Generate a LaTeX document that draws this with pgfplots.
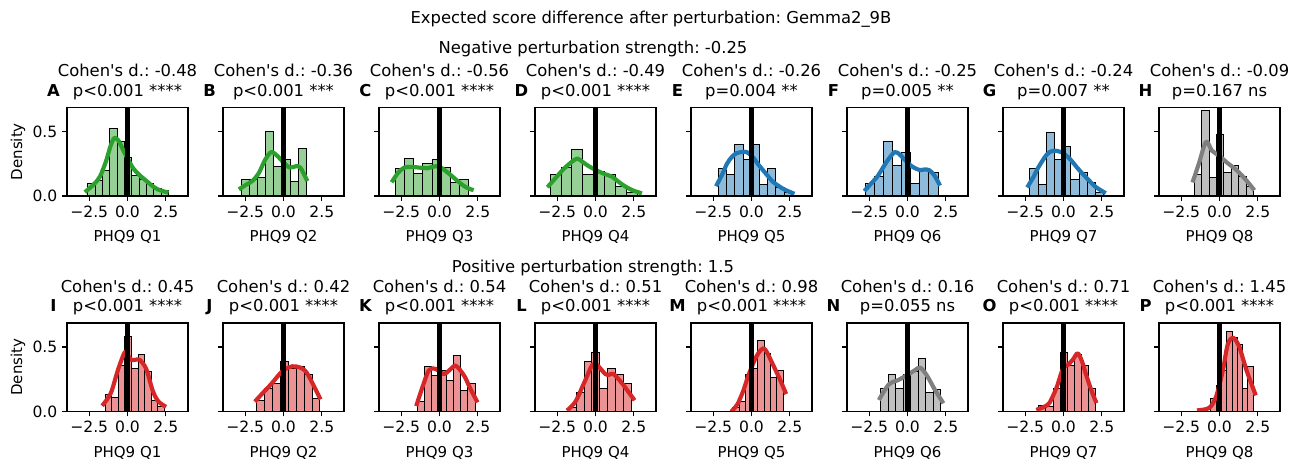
\documentclass[border=0pt]{standalone}
\usepackage{fontspec}
\setmainfont{DejaVu Sans}[Ligatures=TeXOff]
\usepackage{pgfplots}
\pgfplotsset{compat=1.18}
\frenchspacing
\definecolor{tgreen}{HTML}{2CA02C}
\definecolor{tblue}{HTML}{1F77B4}
\definecolor{tred}{HTML}{D62728}
\definecolor{tgray}{HTML}{7F7F7F}
\definecolor{fgreen}{RGB}{150,208,150}
\definecolor{fblue}{RGB}{143,187,218}
\definecolor{fred}{RGB}{235,147,148}
\definecolor{fgray}{RGB}{191,191,191}
\newcommand\tf{\fontsize{11.8bp}{14bp}\selectfont}
\newcommand\lf{\fontsize{10.8bp}{13bp}\selectfont}
\newcommand\kf{\fontsize{11.2bp}{13bp}\selectfont}
\pgfplotsset{
 panel/.style={
  scale only axis, width=87.12bp, height=63.72bp, anchor=south west,
  xmin=-3.95, xmax=3.95, ymin=0, ymax=0.685,
  xtick={-2.5,0,2.5}, xticklabels={−2.5,0.0,2.5},
  ytick={0,0.5}, yticklabels={},
  tick pos=left,
  tick align=outside, major tick length=3.5bp,
  every tick/.style={black, line width=0.9bp},
  axis line style={line width=1.1bp},
  tick label style={font=\kf},
  axis on top,
  /pgf/number format/assume math mode=true,
 },
 ylab/.style={yticklabels={0.0,0.5}},
 hist/.style={ybar interval, fill=#1, draw=black, line width=0.7bp},
 kde/.style={color=#1, line width=3bp, smooth, tension=0.5, line cap=rect, line join=round},
 zline/.style={black, line width=3.6bp},
}
\newcommand\panel[6]{%
\begin{axis}[panel, at={(#1*0.72bp,-#2*0.72bp)}, #3]
\addplot[hist=f#4] coordinates {#5};
\addplot[kde=t#4] coordinates {#6};
\addplot[zline] coordinates {(0,0) (0,0.685)};
\end{axis}}
\newcommand\ptext[6]{%
\node[anchor=base] at (#1,#2-31) {\tf Cohen's d.: #4};
\node[anchor=base] at (#1,#2-11.5) {\tf #5};
\node[anchor=base] at (#1-74,#2-11.5) {\tf\bfseries #3};
\node[anchor=base] at (#1,#2+88.5+45.5) {\lf #6};
}
\begin{document}
\begin{tikzpicture}[x=0.72bp,y=-0.72bp]
\path (0,0) rectangle (1302,461);
% top row (bottom y = 196)
\panel{67}{196}{ylab}{green}{(-2.60,0.10) (-2.12,0.12) (-1.64,0.20) (-1.16,0.52) (-0.68,0.42) (-0.20,0.30) (0.28,0.16) (0.76,0.13) (1.24,0.10) (1.72,0.06) (2.20,0.04) (2.68,0)}
{(-2.68,0.04) (-2.2,0.09) (-1.8,0.15) (-1.4,0.27) (-1.1,0.39) (-0.85,0.45) (-0.6,0.43) (-0.3,0.36) (0,0.29) (0.4,0.21) (0.8,0.16) (1.2,0.12) (1.6,0.08) (2.0,0.05) (2.55,0.03)}
\panel{223}{196}{}{green}{(-2.75,0.13) (-2.22,0.13) (-1.69,0.14) (-1.16,0.50) (-0.63,0.23) (-0.10,0.28) (0.43,0.11) (0.96,0.37) (1.49,0)}
{(-2.8,0.06) (-2.4,0.09) (-2.0,0.12) (-1.6,0.18) (-1.2,0.28) (-0.8,0.34) (-0.4,0.31) (0,0.26) (0.4,0.22) (0.8,0.23) (1.1,0.22) (1.5,0.13)}
\panel{379}{196}{}{green}{(-2.88,0.215) (-2.28,0.29) (-1.68,0.175) (-1.08,0.25) (-0.48,0.28) (0.12,0.22) (0.72,0.105) (1.32,0.125) (1.92,0)}
{(-3.05,0.12) (-2.7,0.18) (-2.3,0.22) (-1.8,0.225) (-1.33,0.22) (-0.8,0.215) (-0.26,0.23) (0.1,0.22) (0.7,0.165) (1.24,0.11) (1.7,0.07) (2.1,0.05)}
\panel{535}{196}{}{green}{(-2.96,0.17) (-2.25,0.22) (-1.54,0.36) (-0.83,0.17) (-0.12,0.19) (0.59,0.17) (1.30,0.075) (2.01,0.03) (2.72,0)}
{(-3.05,0.08) (-2.6,0.14) (-2.15,0.20) (-1.6,0.26) (-1.18,0.29) (-0.8,0.26) (-0.43,0.23) (0.21,0.19) (0.6,0.17) (1.07,0.15) (1.5,0.11) (1.93,0.075) (2.4,0.045) (2.9,0.025)}
\panel{691}{196}{}{blue}{(-2.15,0.21) (-1.615,0.17) (-1.08,0.40) (-0.545,0.28) (-0.01,0.40) (0.525,0.09) (1.06,0.21) (1.595,0.065) (2.13,0.03) (2.665,0)}
{(-2.25,0.09) (-1.9,0.17) (-1.6,0.25) (-1.3,0.30) (-1.0,0.33) (-0.65,0.34) (-0.32,0.34) (0.1,0.30) (0.4,0.25) (0.75,0.20) (1.1,0.15) (1.4,0.11) (2.04,0.057) (2.68,0.023)}
\panel{847}{196}{}{blue}{(-2.73,0.095) (-2.14,0.15) (-1.55,0.42) (-0.96,0.24) (-0.37,0.34) (0.22,0.095) (0.81,0.21) (1.40,0.18) (1.99,0)}
{(-2.73,0.05) (-2.35,0.10) (-1.97,0.15) (-1.65,0.21) (-1.33,0.27) (-0.84,0.34) (-0.5,0.32) (-0.26,0.29) (0.28,0.23) (0.82,0.20) (1.1,0.205) (1.42,0.20) (1.75,0.16) (2.06,0.095)}
\panel{1003}{196}{}{blue}{(-2.19,0.21) (-1.655,0.09) (-1.12,0.49) (-0.585,0.28) (-0.05,0.385) (0.485,0.13) (1.02,0.18) (1.555,0.105) (2.09,0.025) (2.625,0)}
{(-2.3,0.08) (-1.95,0.15) (-1.65,0.22) (-1.1,0.32) (-0.69,0.35) (-0.15,0.34) (0.39,0.29) (1.03,0.20) (1.67,0.12) (2.1,0.07) (2.64,0.03)}
\panel{1159}{196}{}{gray}{(-1.63,0.165) (-1.15,0.66) (-0.67,0.14) (-0.19,0.48) (0.29,0.18) (0.77,0.24) (1.25,0.15) (1.73,0.075) (2.21,0)}
{(-1.72,0.12) (-1.35,0.25) (-0.88,0.42) (-0.49,0.35) (0,0.31) (0.47,0.26) (1.12,0.20) (1.76,0.12) (2.19,0.057)}
% bottom row (bottom y = 411.5)
\panel{67}{411.5}{ylab}{red}{(-1.46,0.134) (-1.03,0.108) (-0.60,0.36) (-0.17,0.58) (0.26,0.33) (0.69,0.44) (1.12,0.31) (1.55,0.088) (1.98,0.036) (2.41,0)}
{(-1.57,0.057) (-1.3,0.10) (-1.03,0.16) (-0.6,0.33) (-0.17,0.46) (0.05,0.43) (0.26,0.40) (0.5,0.40) (0.79,0.40) (1.22,0.33) (1.65,0.16) (2.0,0.08) (2.4,0.044)}
\panel{223}{411.5}{}{red}{(-1.78,0.088) (-1.26,0.178) (-0.74,0.216) (-0.22,0.384) (0.30,0.33) (0.82,0.35) (1.34,0.29) (1.86,0.10) (2.38,0)}
{(-1.78,0.088) (-1.3,0.15) (-0.82,0.21) (-0.4,0.27) (0,0.32) (0.58,0.35) (1.1,0.34) (1.45,0.31) (1.76,0.25) (2.1,0.17) (2.36,0.108)}
\panel{379}{411.5}{}{red}{(-1.44,0.077) (-0.97,0.345) (-0.50,0.28) (-0.03,0.32) (0.44,0.237) (0.91,0.437) (1.38,0.16) (1.85,0.216) (2.32,0)}
{(-1.48,0.057) (-1.12,0.186) (-0.69,0.32) (-0.26,0.33) (0.28,0.29) (0.65,0.32) (1.03,0.356) (1.35,0.32) (1.67,0.265) (2.0,0.18) (2.42,0.085)}
\panel{535}{411.5}{}{red}{(-1.76,0.03) (-1.25,0.147) (-0.74,0.384) (-0.23,0.456) (0.28,0.18) (0.79,0.33) (1.30,0.29) (1.81,0.216) (2.32,0)}
{(-1.76,0.018) (-1.29,0.08) (-0.75,0.22) (-0.21,0.36) (0.1,0.36) (0.64,0.29) (0.9,0.285) (1.18,0.29) (1.72,0.22) (2.1,0.16) (2.47,0.10)}
\panel{691}{411.5}{}{red}{(-1.22,0.03) (-0.81,0.08) (-0.40,0.29) (0.01,0.33) (0.42,0.55) (0.83,0.45) (1.24,0.26) (1.65,0.32) (2.06,0)}
{(-1.23,0.01) (-0.9,0.06) (-0.54,0.16) (-0.2,0.28) (0.21,0.40) (0.5,0.46) (0.79,0.49) (1.05,0.45) (1.29,0.39) (1.83,0.255) (2.21,0.15)}
\panel{847}{411.5}{}{gray}{(-1.76,0.18) (-1.27,0.29) (-0.78,0.175) (-0.29,0.284) (0.20,0.31) (0.69,0.41) (1.18,0.147) (1.67,0.167) (2.16,0)}
{(-1.8,0.103) (-1.22,0.21) (-0.58,0.245) (0,0.284) (0.49,0.32) (0.82,0.34) (1.24,0.284) (1.78,0.17) (2.27,0.077)}
\panel{1003}{411.5}{}{red}{(-1.61,0.05) (-1.145,0.04) (-0.68,0.18) (-0.215,0.46) (0.25,0.36) (0.715,0.44) (1.18,0.36) (1.645,0.178) (2.11,0)}
{(-1.65,0.018) (-1.2,0.04) (-0.9,0.07) (-0.47,0.18) (-0.04,0.33) (0.28,0.36) (0.6,0.40) (0.92,0.45) (1.2,0.39) (1.46,0.29) (1.8,0.17) (2.1,0.08)}
\panel{1159}{411.5}{}{red}{(-0.56,0.10) (-0.21,0.20) (0.13,0.32) (0.47,0.62) (0.82,0.57) (1.16,0.52) (1.50,0.176) (1.85,0.35) (2.19,0)}
{(-1.34,0.01) (-0.65,0.03) (-0.21,0.12) (0.22,0.32) (0.54,0.52) (0.9,0.57) (1.29,0.5) (1.76,0.32) (2.32,0.14)}
% texts
\node[anchor=base] at (651,23) {\tf Expected score difference after perturbation: Gemma2\_9B};
\node[anchor=base] at (593,53) {\tf Negative perturbation strength: -0.25};
\node[anchor=base] at (593,272) {\tf Positive perturbation strength: 1.5};
\node[rotate=90] at (18,151.75) {\lf Density};
\node[rotate=90] at (18,367.25) {\lf Density};
\ptext{127.5}{107.5}{A}{-0.48}{p<0.001 ****}{PHQ9 Q1}
\ptext{283.5}{107.5}{B}{-0.36}{p<0.001 ***}{PHQ9 Q2}
\ptext{439.5}{107.5}{C}{-0.56}{p<0.001 ****}{PHQ9 Q3}
\ptext{595.5}{107.5}{D}{-0.49}{p<0.001 ****}{PHQ9 Q4}
\ptext{751.5}{107.5}{E}{-0.26}{p=0.004 **}{PHQ9 Q5}
\ptext{907.5}{107.5}{F}{-0.25}{p=0.005 **}{PHQ9 Q6}
\ptext{1063.5}{107.5}{G}{-0.24}{p=0.007 **}{PHQ9 Q7}
\ptext{1219.5}{107.5}{H}{-0.09}{p=0.167 ns}{PHQ9 Q8}
\ptext{127.5}{323}{I}{0.45}{p<0.001 ****}{PHQ9 Q1}
\ptext{283.5}{323}{J}{0.42}{p<0.001 ****}{PHQ9 Q2}
\ptext{439.5}{323}{K}{0.54}{p<0.001 ****}{PHQ9 Q3}
\ptext{595.5}{323}{L}{0.51}{p<0.001 ****}{PHQ9 Q4}
\ptext{751.5}{323}{M}{0.98}{p<0.001 ****}{PHQ9 Q5}
\ptext{907.5}{323}{N}{0.16}{p=0.055 ns}{PHQ9 Q6}
\ptext{1063.5}{323}{O}{0.71}{p<0.001 ****}{PHQ9 Q7}
\ptext{1219.5}{323}{P}{1.45}{p<0.001 ****}{PHQ9 Q8}
\end{tikzpicture}
\end{document}
